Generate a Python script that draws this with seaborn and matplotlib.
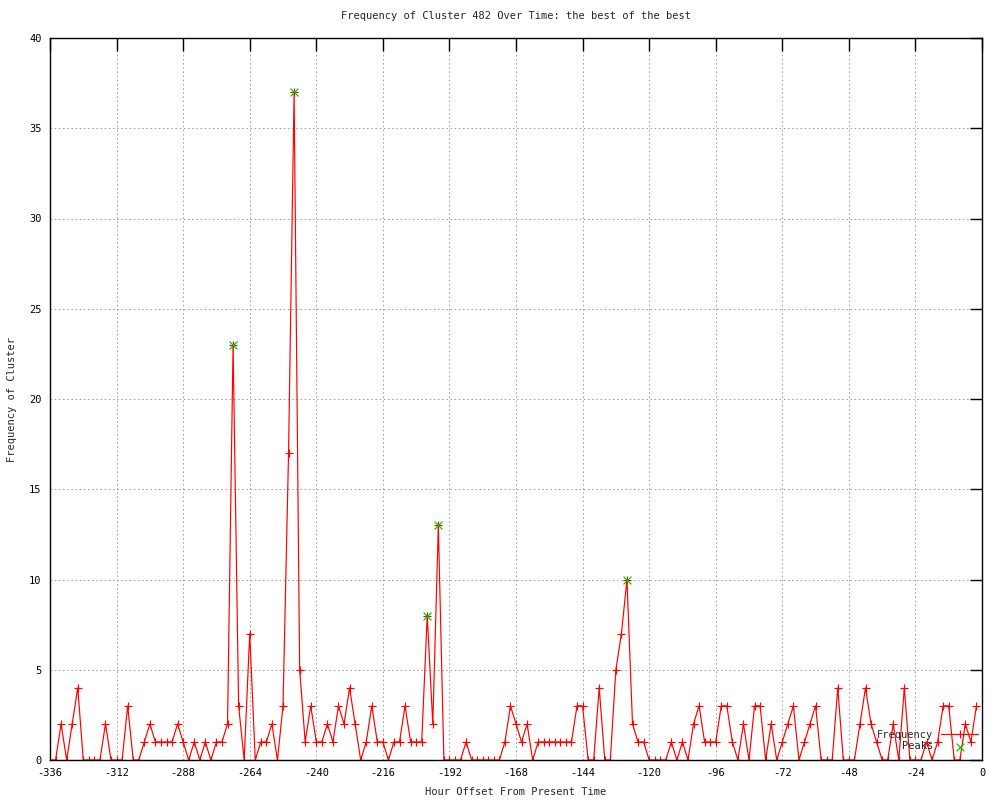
import matplotlib
matplotlib.use("Agg")
import pandas as pd
import matplotlib.pyplot as plt
import seaborn as sns

# hour offsets, one sample every 2 hours
hours = list(range(-336, 0, 2))
freq = [0, 0, 2, 0, 2, 4, 0, 0, 0, 0, 2, 0, 0, 0, 3, 0, 0, 1, 2, 1,
        1, 1, 1, 2, 1, 0, 1, 0, 1, 0, 1, 1, 2, 23, 3, 0, 7, 0, 1, 1,
        2, 0, 3, 17, 37, 5, 1, 3, 1, 1, 2, 1, 3, 2, 4, 2, 0, 1, 3, 1,
        1, 0, 1, 1, 3, 1, 1, 1, 8, 2, 13, 0, 0, 0, 0, 1, 0, 0, 0, 0,
        0, 0, 1, 3, 2, 1, 2, 0, 1, 1, 1, 1, 1, 1, 1, 3, 3, 0, 0, 4,
        0, 0, 5, 7, 10, 2, 1, 1, 0, 0, 0, 0, 1, 0, 1, 0, 2, 3, 1, 1,
        1, 3, 3, 1, 0, 2, 0, 3, 3, 0, 2, 0, 1, 2, 3, 0, 1, 2, 3, 0,
        0, 0, 4, 0, 0, 0, 2, 4, 2, 1, 0, 0, 2, 0, 4, 0, 0, 0, 1, 0,
        1, 3, 3, 0, 0, 2, 1, 3]

peak_hours = [-270, -248, -200, -196, -128]
peak_vals = [23, 37, 8, 13, 10]

x_ticks = list(range(-336, 1, 24))
y_ticks = list(range(0, 41, 5))

sns.set_style("white")
plt.rcParams["font.family"] = ["DejaVu Sans Mono"]
plt.rcParams["axes.unicode_minus"] = False

fig = plt.figure(figsize=(10, 8), dpi=100)
ax = fig.add_axes([0.05, 0.05, 0.932, 0.9025])

df = pd.DataFrame({"hour": hours, "freq": freq})
pk = pd.DataFrame({"hour": peak_hours, "freq": peak_vals})

sns.lineplot(data=df, x="hour", y="freq", color="#ff0000", lw=0.85,
             marker="+", markersize=6, markeredgewidth=0.85,
             markeredgecolor="#ff0000", label="Frequency", ax=ax)
sns.scatterplot(data=pk, x="hour", y="freq", marker="x", color="#00c000",
                s=32, linewidth=0.85, label="    Peaks", ax=ax, zorder=3)

ax.set_xlim(-336, 0)
ax.set_ylim(0, 40)
ax.set_xticks(x_ticks)
ax.set_yticks(y_ticks)
ax.grid(True, color="#a0a0a0", linestyle=(0, (1.5, 2.5)), linewidth=0.75)
ax.set_axisbelow(True)
ax.tick_params(direction="in", length=9, width=1, top=True, right=True,
               labelsize=7.5, pad=6, colors="black")
for s in ax.spines.values():
    s.set_color("black")
    s.set_linewidth(1)

ax.set_title("Frequency of Cluster 482 Over Time: the best of the best",
             fontsize=7.5, pad=14)
ax.set_xlabel("Hour Offset From Present Time", fontsize=7.5, labelpad=6)
ax.set_ylabel("Frequency of Cluster", fontsize=7.5, labelpad=9)

ax.legend(loc="lower right", bbox_to_anchor=(0.996, 0.012), frameon=False,
          markerfirst=False, handlelength=3.6, handletextpad=0.7,
          labelspacing=0.15, borderpad=0, borderaxespad=0, fontsize=7.5,
          scatterpoints=1)

fig.savefig("out.png", dpi=100)
